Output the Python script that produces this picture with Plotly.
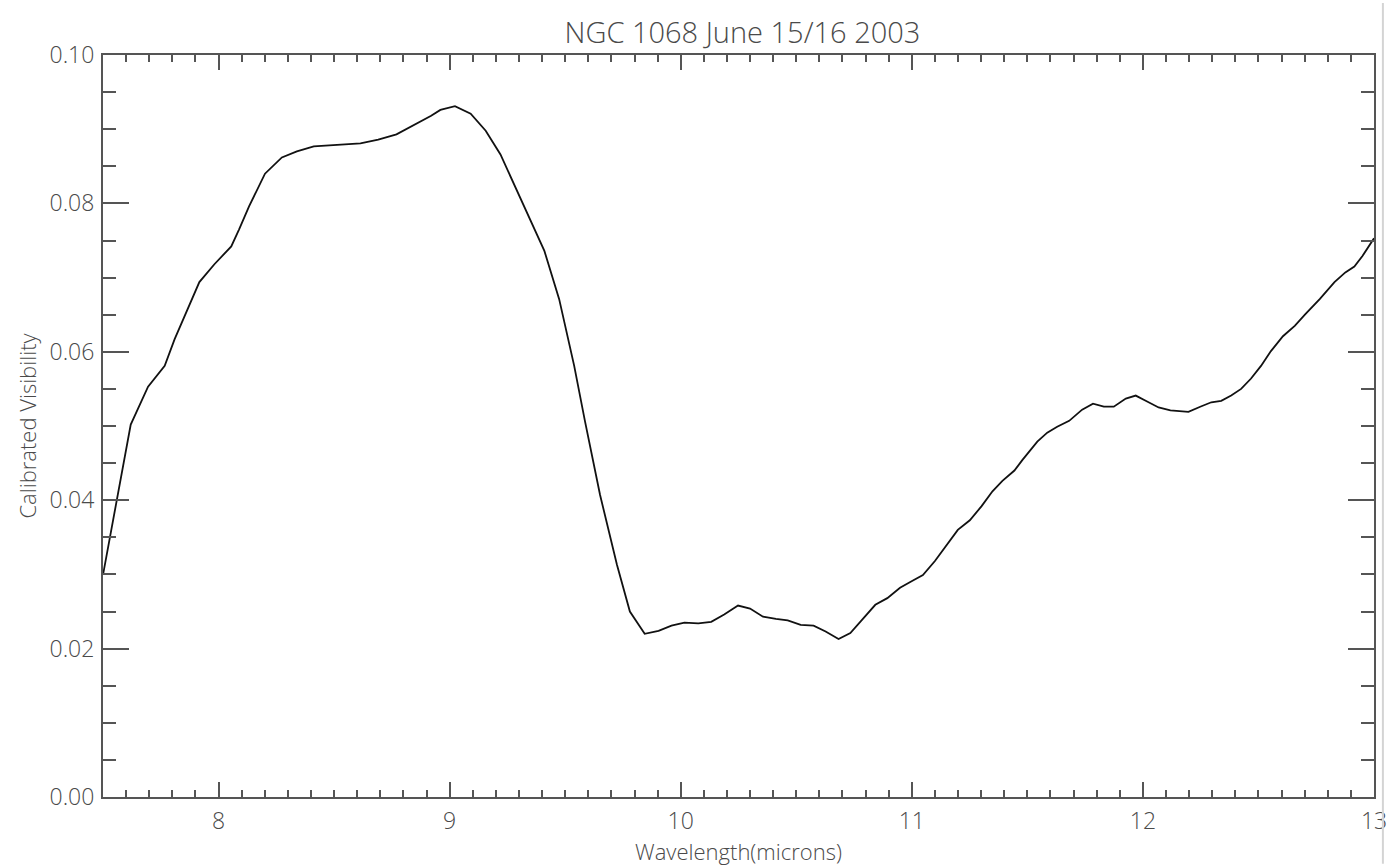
import plotly.graph_objects as go

# Wavelength (microns) and calibrated visibility of NGC 1068
wavelength = [
    7.501, 7.620, 7.695, 7.767, 7.810, 7.917, 7.982, 8.055, 8.089, 8.132,
    8.201, 8.274, 8.339, 8.412, 8.614, 8.691, 8.770, 8.850, 8.920, 8.960,
    9.023, 9.091, 9.156, 9.220, 9.315, 9.410, 9.474, 9.539, 9.586, 9.651,
    9.724, 9.780, 9.844, 9.904, 9.960, 10.016, 10.076, 10.132, 10.188, 10.248,
    10.300, 10.356, 10.412, 10.463, 10.519, 10.575, 10.627, 10.683, 10.734, 10.786,
    10.842, 10.894, 10.949, 11.001, 11.048, 11.100, 11.156, 11.199, 11.251, 11.302,
    11.349, 11.392, 11.444, 11.478, 11.543, 11.586, 11.629, 11.681, 11.737, 11.784,
    11.831, 11.874, 11.926, 11.969, 12.012, 12.068, 12.119, 12.197, 12.248, 12.296,
    12.339, 12.382, 12.425, 12.468, 12.511, 12.554, 12.606, 12.657, 12.704, 12.765,
    12.829, 12.876, 12.915, 12.950, 13.000,
]
visibility = [
    0.0301, 0.0502, 0.0553, 0.0581, 0.0617, 0.0694, 0.0718, 0.0742, 0.0765, 0.0796,
    0.0840, 0.0862, 0.0870, 0.0877, 0.0881, 0.0886, 0.0893, 0.0906, 0.0918, 0.0926,
    0.0931, 0.0921, 0.0898, 0.0866, 0.0800, 0.0736, 0.0671, 0.0581, 0.0506, 0.0407,
    0.0313, 0.0250, 0.0220, 0.0224, 0.0231, 0.0235, 0.0234, 0.0236, 0.0246, 0.0258,
    0.0254, 0.0243, 0.0240, 0.0238, 0.0232, 0.0231, 0.0223, 0.0213, 0.0221, 0.0240,
    0.0259, 0.0268, 0.0282, 0.0291, 0.0299, 0.0318, 0.0342, 0.0360, 0.0373, 0.0392,
    0.0412, 0.0426, 0.0440, 0.0454, 0.0479, 0.0491, 0.0499, 0.0507, 0.0522, 0.0530,
    0.0526, 0.0526, 0.0537, 0.0541, 0.0534, 0.0525, 0.0521, 0.0519, 0.0526, 0.0532,
    0.0534, 0.0541, 0.0550, 0.0564, 0.0581, 0.0601, 0.0621, 0.0635, 0.0651, 0.0671,
    0.0694, 0.0707, 0.0715, 0.0729, 0.0753,
]

x_range = [7.5, 13.0]
y_range = [0.0, 0.10]
y_ticks = [0.00, 0.02, 0.04, 0.06, 0.08, 0.10]
y_ticklabels = ["0.00", "0.02", "0.04", "0.06", "0.08", "0.10"]

FONT = "Open Sans"
TEXT = "#4a4a4a"
AXIS = "#555555"

fig = go.Figure()
fig.add_trace(go.Scatter(
    x=wavelength, y=visibility, mode="lines",
    line=dict(color="#111111", width=1.8),
    showlegend=False, hoverinfo="x+y",
))

common = dict(
    showgrid=False, zeroline=False, showline=True, linecolor=AXIS, linewidth=2,
    mirror="ticks", ticks="inside", tickcolor=AXIS, tickwidth=1.5,
    tickfont=dict(family=FONT, size=23, color=TEXT, weight=300),
    ticklabeloverflow="allow",
)

fig.update_xaxes(
    range=x_range, tick0=0, dtick=1, ticklen=15,
    minor=dict(dtick=0.1, tick0=0, ticks="inside", ticklen=7,
               tickcolor=AXIS, tickwidth=1.5, showgrid=False),
    title=dict(text="Wavelength(microns)", standoff=3,
               font=dict(family=FONT, size=22, color=TEXT, weight=300)),
    ticklabelstandoff=2,
    **common,
)
fig.update_yaxes(
    range=y_range, tickvals=y_ticks, ticktext=y_ticklabels, ticklen=26,
    minor=dict(dtick=0.005, tick0=0, ticks="inside", ticklen=13,
               tickcolor=AXIS, tickwidth=1.5, showgrid=False),
    title=dict(text="Calibrated Visibility", standoff=7,
               font=dict(family=FONT, size=22, color=TEXT, weight=300)),
    ticklabelstandoff=2,
    **common,
)

# faint vertical edge line on the right side of the page
fig.add_shape(type="line", xref="paper", yref="paper",
              x0=1.0070, x1=1.0070, y0=-0.09, y1=1.07,
              line=dict(color="#d4d4d4", width=2))

fig.update_layout(
    width=1399, height=866,
    margin=dict(l=103, r=17, t=55, b=66),
    paper_bgcolor="white", plot_bgcolor="white",
    title=dict(text="NGC 1068 June 15/16 2003", x=0.5307, xanchor="center",
               y=0.962, yanchor="middle",
               font=dict(family=FONT, size=29, color=TEXT, weight=300)),
)

fig.write_html(
    "out.html",
    post_script="document.body.style.margin='0';document.body.style.overflow='hidden';",
)
